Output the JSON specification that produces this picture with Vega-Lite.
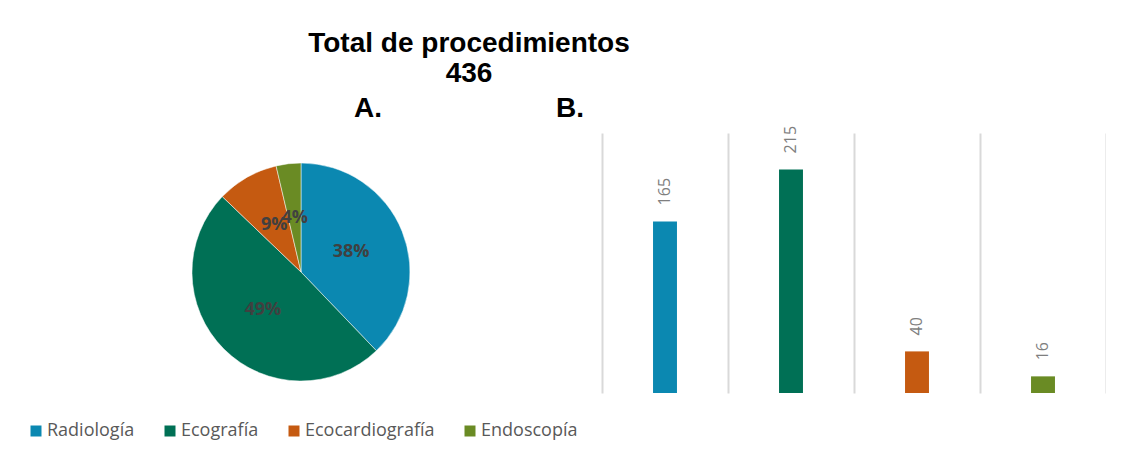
{
  "$schema": "https://vega.github.io/schema/vega-lite/v6.json",
  "background": "white",
  "padding": {"left": 24, "top": 29, "right": 0, "bottom": 0},
  "bounds": "flush",
  "title": {
    "text": ["Total de procedimientos", "436"],
    "font": "Liberation Sans",
    "fontSize": 28,
    "fontWeight": "bold",
    "color": "#000000",
    "lineHeight": 30,
    "anchor": "middle",
    "dx": -96,
    "offset": 7
  },
  "data": {
    "values": [
      {"categoria": "Radiología", "valor": 165, "pct": 0.38},
      {"categoria": "Ecografía", "valor": 215, "pct": 0.49},
      {"categoria": "Ecocardiografía", "valor": 40, "pct": 0.09},
      {"categoria": "Endoscopía", "valor": 16, "pct": 0.04}
    ]
  },
  "transform": [{"window": [{"op": "row_number", "as": "idx"}]}],
  "spacing": 24,
  "hconcat": [
    {
      "width": 554,
      "height": 278,
      "title": {"text": "A.", "dx": 67},
      "layer": [
        {
          "mark": {"type": "arc", "outerRadius": 109, "stroke": "#ffffff", "strokeWidth": 0.5},
          "encoding": {
            "theta": {"field": "valor", "type": "quantitative", "stack": true},
            "order": {"field": "idx", "type": "quantitative"},
            "color": {
              "field": "categoria",
              "type": "nominal",
              "sort": ["Radiología", "Ecografía", "Ecocardiografía", "Endoscopía"],
              "scale": {
                "domain": ["Radiología", "Ecografía", "Ecocardiografía", "Endoscopía"],
                "range": ["#0B88B1", "#007055", "#C55A11", "#6A8B24"]
              },
              "legend": {"title": null}
            }
          }
        },
        {
          "mark": {"type": "text", "radius": 54, "font": "Open Sans", "fontWeight": "bold", "fontSize": 18, "color": "#404040"},
          "encoding": {
            "theta": {"field": "valor", "type": "quantitative", "stack": true},
            "order": {"field": "idx", "type": "quantitative"},
            "text": {"field": "pct", "type": "quantitative", "format": ".0%"}
          }
        }
      ]
    },
    {
      "width": 504,
      "height": 260,
      "title": {"text": "B.", "anchor": "start", "dx": -46, "dy": 7},
      "encoding": {
        "x": {
          "field": "categoria",
          "type": "nominal",
          "sort": ["Radiología", "Ecografía", "Ecocardiografía", "Endoscopía"],
          "scale": {"paddingInner": 0, "paddingOuter": 0},
          "axis": {
            "title": null,
            "labels": false,
            "ticks": false,
            "domain": false,
            "grid": true,
            "tickBand": "extent",
            "gridColor": "#d9d9d9",
            "gridWidth": 2
          }
        },
        "y": {"field": "valor", "type": "quantitative", "scale": {"domain": [0, 250]}, "axis": null}
      },
      "layer": [
        {
          "mark": {"type": "bar", "width": {"band": 0.19}},
          "encoding": {
            "color": {"field": "categoria", "type": "nominal", "sort": ["Radiología", "Ecografía", "Ecocardiografía", "Endoscopía"]}
          }
        },
        {
          "mark": {"type": "text", "angle": 270, "align": "left", "baseline": "middle", "dx": 16, "font": "Open Sans", "fontSize": 16, "color": "#7f7f7f"},
          "encoding": {"text": {"field": "valor", "type": "quantitative"}}
        }
      ]
    }
  ],
  "config": {
    "view": {"stroke": null},
    "title": {"font": "Liberation Sans", "fontSize": 28, "fontWeight": "bold", "color": "#000000", "offset": 10},
    "legend": {
      "orient": "bottom",
      "direction": "horizontal",
      "symbolType": "square",
      "symbolSize": 121,
      "symbolStrokeWidth": 0,
      "labelFont": "Open Sans",
      "labelFontSize": 18,
      "labelColor": "#595959",
      "labelOffset": 2,
      "columnPadding": 26,
      "offset": 8,
      "padding": 3
    }
  }
}
